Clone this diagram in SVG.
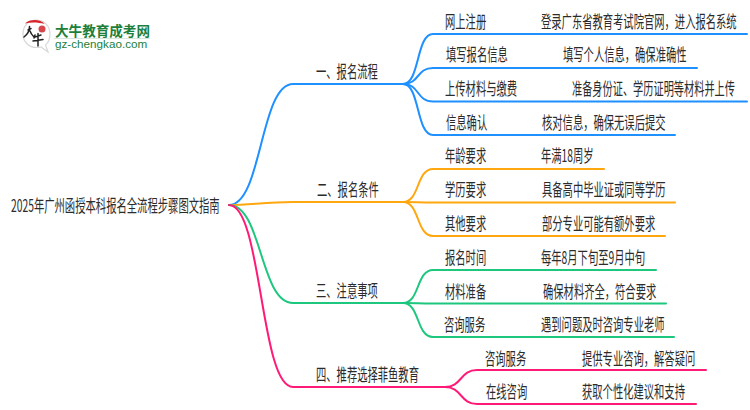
<svg xmlns="http://www.w3.org/2000/svg" width="750" height="410" viewBox="0 0 750 410">
<style>
text{font-family:"Noto Sans CJK SC","Noto Sans",sans-serif;font-size:17px;fill:#2b2b2b}
.c{fill:none;stroke-width:2;stroke-linecap:round}
.b{stroke:#1e90ff}.o{stroke:#ffa70f}.g{stroke:#1dc77e}.p{stroke:#ff1a78}
.lg{fill:#1d7f3c;font-weight:700;font-size:14px}
.lu{fill:#1d7f3c;font-family:"Liberation Sans",sans-serif;font-size:10px}
</style>
<rect width="750" height="410" fill="#fff"/>
<g id="logo">
<path d="M36 20C28.500 20 23 26 23 34C23 42 29 47.500 36.500 47.500C38 47.500 39.500 47.500 41 47L48 52L45.500 45C48.500 42.500 50 38.500 50 34C50 26 44 20 36 20Z" fill="#fff" stroke="#d8d8d8" stroke-width="1.200"/>
<path d="M25 23.500C27 21 31 20 35 20C39 20 42 21 44.500 24C38 22 31 22 25 23.500Z" fill="#d8262c"/>
<circle cx="42" cy="29" r="3.500" fill="#d8454a"/>
<path d="M28 30L31 28.500M29.500 26.500C29.500 31 28 34 24 37M30 31C31 34 33 36 34 37M35 37L41 35M38 33.500V46M33 41L43 39.500M35 35L34 38" fill="none" stroke="#222" stroke-width="1.500" stroke-linecap="round"/>
<text class="lg" transform="translate(55 35.500) scale(.97 1)">大牛教育成考网</text>
<rect x="54" y="38" width="96" height="1" fill="#d9e8dc"/>
<text class="lu" transform="translate(55 47.500) scale(1.170 1)">gz-chengkao.com</text>
</g>
<g id="connectors">
<path class="c b" d="M229 205C262 205 260 84 293 84H403"/>
<path class="c o" d="M229 205C250 205 265 202 293 202H403"/>
<path class="c g" d="M229 205C262 205 260 303 293 303H403"/>
<path class="c p" d="M229 205C262 205 260 387 293 387H445"/>
<path class="c b" d="M403 84C420 84 416 34 433 34H747"/>
<path class="c b" d="M403 84C420 84 416 68 433 68H697"/>
<path class="c b" d="M403 84C420 84 416 101.500 433 101.500H747"/>
<path class="c b" d="M403 84C420 84 416 135 433 135H675"/>
<path class="c o" d="M403 202C420 202 416 169 433 169H604"/>
<path class="c o" d="M403 202C420 202 416 202.500 433 202.500H675"/>
<path class="c o" d="M403 202C420 202 416 236 433 236H665"/>
<path class="c g" d="M403 303C420 303 416 270 433 270H656"/>
<path class="c g" d="M403 303C420 303 416 303.500 433 303.500H666"/>
<path class="c g" d="M403 303C420 303 416 337 433 337H674"/>
<path class="c p" d="M445 387C462 387 460 370 477 370H706"/>
<path class="c p" d="M445 387C462 387 460 404 477 404H696"/>
</g>
<g id="root"><text transform="translate(11 212) scale(.608 1)">2025年广州函授本科报名全流程步骤图文指南</text></g>
<g id="s1"><text transform="translate(316 78) scale(.606 1)">一、报名流程</text></g>
<g id="s2"><text transform="translate(317 196) scale(.606 1)">二、报名条件</text></g>
<g id="s3"><text transform="translate(316 297) scale(.606 1)">三、注意事项</text></g>
<g id="s4"><text transform="translate(316 381) scale(.606 1)">四、推荐选择菲鱼教育</text></g>
<g id="n11"><text transform="translate(445 28) scale(.606 1)">网上注册</text><text transform="translate(541 28) scale(.606 1)">登录广东省教育考试院官网，进入报名系统</text></g>
<g id="n12"><text transform="translate(446 61) scale(.606 1)">填写报名信息</text><text transform="translate(563 61) scale(.606 1)">填写个人信息，确保准确性</text></g>
<g id="n13"><text transform="translate(445 95) scale(.606 1)">上传材料与缴费</text><text transform="translate(572 95) scale(.6 1)">准备身份证、学历证明等材料并上传</text></g>
<g id="n14"><text transform="translate(446 129) scale(.606 1)">信息确认</text><text transform="translate(542 129) scale(.606 1)">核对信息，确保无误后提交</text></g>
<g id="n21"><text transform="translate(445 162) scale(.606 1)">年龄要求</text><text transform="translate(541 162) scale(.606 1)">年满18周岁</text></g>
<g id="n22"><text transform="translate(445 196) scale(.606 1)">学历要求</text><text transform="translate(542 196) scale(.606 1)">具备高中毕业证或同等学历</text></g>
<g id="n23"><text transform="translate(445 230) scale(.606 1)">其他要求</text><text transform="translate(542 230) scale(.606 1)">部分专业可能有额外要求</text></g>
<g id="n31"><text transform="translate(445 264) scale(.606 1)">报名时间</text><text transform="translate(541 264) scale(.606 1)">每年8月下旬至9月中旬</text></g>
<g id="n32"><text transform="translate(445 298) scale(.606 1)">材料准备</text><text transform="translate(543 298) scale(.606 1)">确保材料齐全，符合要求</text></g>
<g id="n33"><text transform="translate(444 331) scale(.606 1)">咨询服务</text><text transform="translate(541 331) scale(.606 1)">遇到问题及时咨询专业老师</text></g>
<g id="n41"><text transform="translate(485 365) scale(.606 1)">咨询服务</text><text transform="translate(582 365) scale(.606 1)">提供专业咨询，解答疑问</text></g>
<g id="n42"><text transform="translate(486 398) scale(.606 1)">在线咨询</text><text transform="translate(582 398) scale(.606 1)">获取个性化建议和支持</text></g>
</svg>
